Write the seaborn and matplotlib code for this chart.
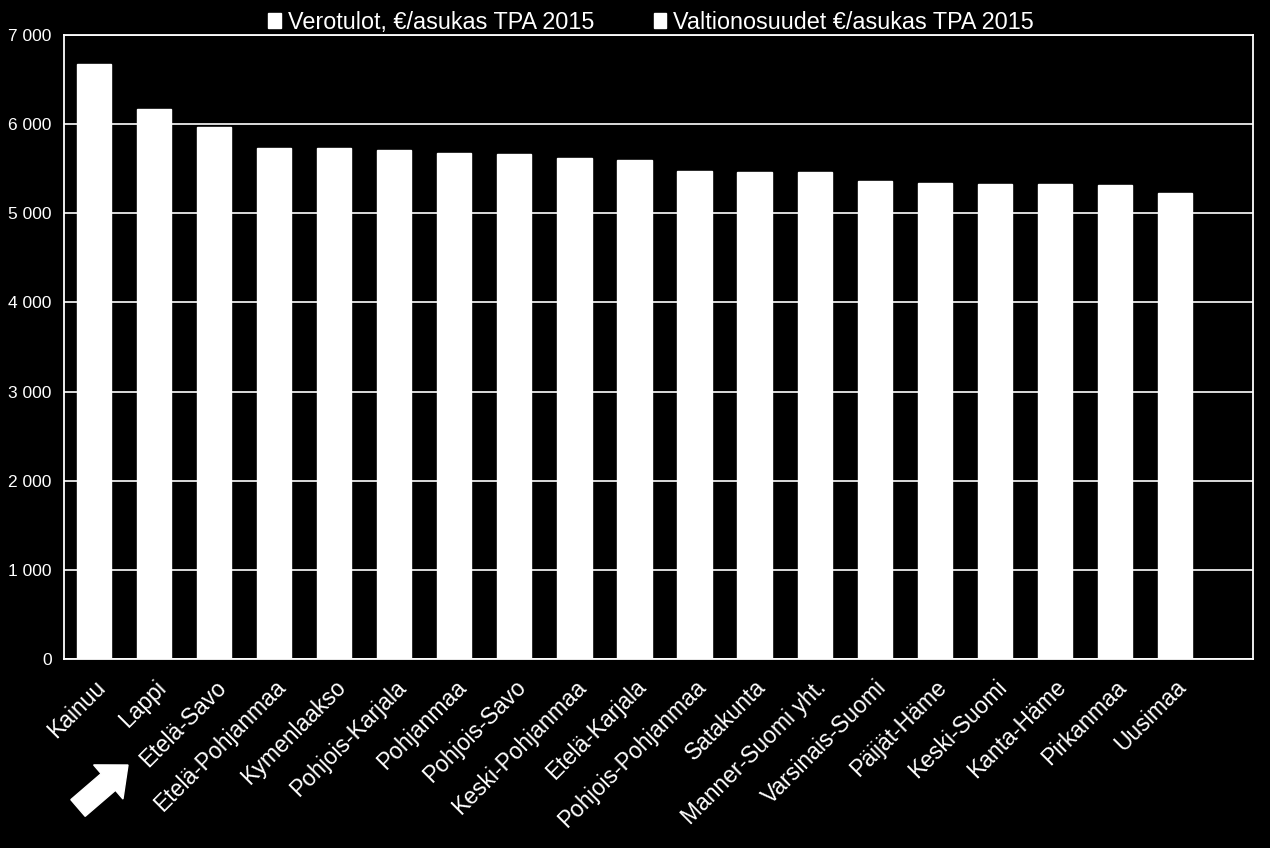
import numpy as np
import pandas as pd
import matplotlib.pyplot as plt
import seaborn as sns
from matplotlib.patches import Patch, FancyArrow
from matplotlib.ticker import FuncFormatter

# regions, sorted as in the chart
regions = ['Kainuu', 'Lappi', 'Etelä-Savo', 'Etelä-Pohjanmaa', 'Kymenlaakso',
           'Pohjois-Karjala', 'Pohjanmaa', 'Pohjois-Savo', 'Keski-Pohjanmaa',
           'Etelä-Karjala', 'Pohjois-Pohjanmaa', 'Satakunta', 'Manner-Suomi yht.',
           'Varsinais-Suomi', 'Päijät-Häme', 'Keski-Suomi', 'Kanta-Häme',
           'Pirkanmaa', 'Uusimaa']
# verotulot + valtionosuudet, €/asukas (both series drawn white, so only the total is visible)
total = [6670, 6165, 5965, 5730, 5730, 5710, 5675, 5660, 5620, 5595,
         5475, 5460, 5460, 5360, 5340, 5325, 5325, 5315, 5225]
series_labels = ['Verotulot, €/asukas TPA 2015', 'Valtionosuudet €/asukas TPA 2015']
yticks = [0, 1000, 2000, 3000, 4000, 5000, 6000, 7000]

df = pd.DataFrame({'region': regions, 'total': total})

sns.set_style('dark')
plt.rcParams['font.family'] = ['Liberation Sans', 'DejaVu Sans']

fig = plt.figure(figsize=(12.7, 8.48), dpi=100, facecolor='black')
ax = fig.add_axes([0.0504, 0.2229, 0.9362, 0.7358])
ax.set_facecolor('black')

sns.barplot(data=df, x='region', y='total', color='white', saturation=1,
            width=0.57, ax=ax, zorder=3)

ax.set_ylim(0, 7000)
ax.set_xlim(-0.5, 19.3)
ax.set_yticks(yticks)
ax.yaxis.set_major_formatter(FuncFormatter(lambda v, p: f'{int(v):,}'.replace(',', ' ')))
ax.grid(axis='y', color='white', linewidth=1.2, zorder=0)
ax.grid(axis='x', visible=False)
for s in ax.spines.values():
    s.set_color('white')
    s.set_linewidth(1.3)
    s.set_visible(True)

ax.set_xlabel('')
ax.set_ylabel('')
ax.tick_params(axis='y', colors='white', labelsize=12.5, length=0, pad=9)
ax.tick_params(axis='x', colors='white', labelsize=16.5, length=0, pad=12)
plt.setp(ax.get_xticklabels(), rotation=45, ha='right', rotation_mode='anchor')

handles = [Patch(facecolor='white', edgecolor='white') for _ in series_labels]
leg = fig.legend(handles, series_labels, loc='upper center', bbox_to_anchor=(0.5126, 1.012),
                 ncol=2, frameon=False, fontsize=16.8, handlelength=0.55, handleheight=0.6,
                 handletextpad=0.3, columnspacing=2.55)
for t in leg.get_texts():
    t.set_color('white')

# arrow pointing at Etelä-Savo
arrow = FancyArrow(0.78, 0.40, 0.50, 0.43, width=0.22, head_width=0.45, head_length=0.26,
                   length_includes_head=True, color='white', transform=fig.dpi_scale_trans)
fig.add_artist(arrow)

fig.savefig('out.png', dpi=100, facecolor='black')
